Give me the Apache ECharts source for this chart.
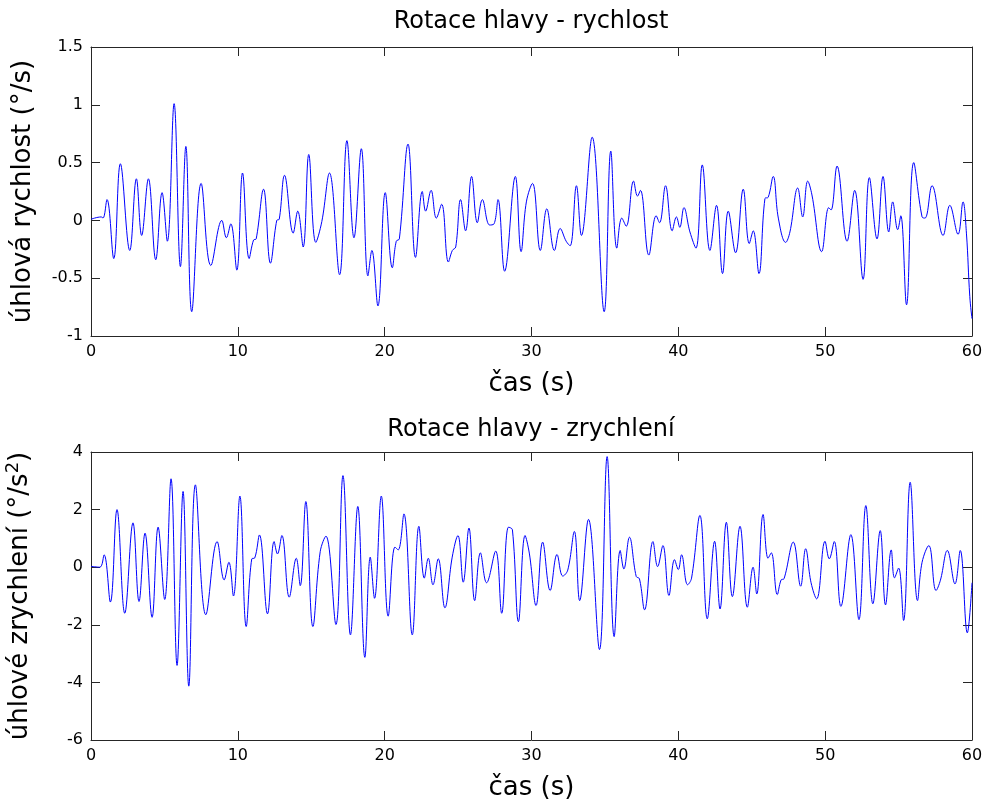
<!DOCTYPE html>
<html>
<head>
<meta charset="utf-8">
<script src="https://cdn.jsdelivr.net/npm/echarts@6/dist/echarts.min.js"></script>
<style>
html,body{margin:0;padding:0;background:#fff;}
#c{width:987px;height:805px;}
</style>
</head>
<body>
<div id="c"></div>
<script>
// Angular velocity (top panel): time [s] and value [deg/s]
const velTime = [0.0,0.7,0.82,1.09,1.55,2.0,2.64,3.09,3.45,3.91,4.41,4.84,5.2,5.66,6.09,6.46,6.86,7.5,8.16,8.91,9.22,9.52,9.93,10.32,10.77,11.07,11.25,11.75,12.22,12.65,12.82,13.18,13.77,14.08,14.45,14.83,15.31,15.72,16.24,16.93,17.43,17.91,18.41,18.86,19.13,19.54,20.04,20.52,20.79,21.0,21.59,22.1,22.56,22.79,23.16,23.52,23.88,24.34,24.61,24.84,25.17,25.51,25.92,26.31,26.65,27.15,27.45,27.72,28.17,28.9,29.29,29.65,30.07,30.6,31.04,31.56,31.95,32.36,32.63,33.06,33.4,34.13,34.95,35.4,35.81,36.15,36.45,36.95,37.22,37.42,37.99,38.49,38.72,39.13,39.58,39.87,40.1,40.38,40.79,41.2,41.63,42.15,42.6,43.01,43.4,43.9,44.42,44.83,45.1,45.49,45.9,46.12,46.46,46.81,47.31,47.6,48.13,48.47,48.81,49.1,49.76,50.24,50.4,50.81,51.49,52.01,52.58,53.01,53.53,53.94,54.33,54.6,54.94,55.15,55.54,56.03,56.6,56.8,57.28,58.03,58.49,59.05,59.39,59.62,59.85,60.0];
const velValue = [0.01,0.03,0.02,0.18,-0.33,0.49,-0.26,0.36,-0.13,0.36,-0.34,0.24,-0.18,1.01,-0.40,0.64,-0.79,0.32,-0.39,0.0,-0.15,-0.03,-0.43,0.41,-0.33,-0.17,-0.16,0.27,-0.37,0.0,0.01,0.39,-0.11,0.08,-0.23,0.57,-0.19,-0.01,0.41,-0.47,0.69,-0.15,0.62,-0.48,-0.26,-0.74,0.24,-0.41,-0.18,-0.16,0.66,-0.32,0.25,0.08,0.26,0.02,0.14,-0.36,-0.26,-0.23,0.18,-0.09,0.38,-0.02,0.18,-0.04,-0.03,0.18,-0.44,0.38,-0.27,0.16,0.32,-0.26,0.10,-0.26,-0.07,-0.18,-0.22,0.30,-0.13,0.72,-0.79,0.60,-0.24,0.02,-0.05,0.34,0.21,0.26,-0.30,0.04,-0.02,0.30,-0.09,0.03,-0.06,0.11,-0.10,-0.24,0.48,-0.26,0.13,-0.46,0.08,-0.28,0.27,-0.20,-0.09,-0.46,0.19,0.20,0.38,0.02,-0.19,-0.10,0.28,0.03,0.34,0.22,-0.27,0.11,0.09,0.47,-0.18,0.26,-0.51,0.37,-0.16,0.38,-0.10,0.16,-0.08,0.04,-0.73,0.50,0.03,0.02,0.30,-0.13,0.13,-0.12,0.16,-0.11,-0.66,-0.85];

// Angular acceleration (bottom panel): time [s] and value [deg/s^2]
const accTime = [0.0,0.6,0.89,1.32,1.77,2.3,2.86,3.27,3.68,4.16,4.57,5.02,5.45,5.86,6.27,6.66,7.11,7.82,8.59,9.07,9.39,9.7,10.14,10.57,10.95,11.15,11.47,12.02,12.47,12.7,13.0,13.5,13.98,14.25,14.63,15.11,15.61,16.0,16.68,17.16,17.67,18.17,18.65,19.02,19.31,19.77,20.24,20.7,20.92,21.31,21.88,22.33,22.7,22.97,23.29,23.65,24.1,24.6,24.99,25.35,25.74,26.13,26.52,26.94,27.56,27.97,28.43,28.7,29.11,29.56,29.86,30.31,30.76,31.27,31.74,32.13,32.47,32.92,33.28,33.88,34.63,35.15,35.63,36.04,36.29,36.67,37.13,37.35,37.7,38.27,38.59,38.95,39.36,39.74,40.0,40.22,40.63,40.9,41.47,41.97,42.47,42.84,43.27,43.68,44.2,44.7,45.09,45.34,45.77,46.11,46.33,46.74,47.0,47.2,47.83,48.33,48.67,49.04,49.42,49.99,50.28,50.62,51.07,51.75,52.3,52.77,53.25,53.75,54.11,54.5,54.72,55.0,55.34,55.79,56.29,56.6,57.06,57.55,57.85,58.32,58.84,59.2,59.68,60.0];
const accValue = [0.03,0.0,0.43,-1.21,2.0,-1.6,1.54,-1.19,1.18,-1.74,1.39,-1.12,3.07,-3.41,2.63,-4.13,2.86,-1.65,0.89,-0.44,0.17,-1.0,2.47,-2.06,0.29,0.32,1.12,-1.62,0.89,0.46,1.1,-1.04,0.31,-0.64,2.28,-2.06,0.54,1.08,-1.99,3.18,-2.35,2.11,-3.13,0.35,-1.08,2.47,-1.70,0.70,0.6,1.85,-2.35,1.42,-0.38,0.31,-0.61,0.29,-1.41,0.35,1.1,-0.52,1.36,-1.16,0.5,-0.54,0.56,-1.6,1.39,1.3,-1.89,1.1,0.46,-1.33,0.87,-0.81,0.44,-0.31,-0.1,1.24,-1.16,1.66,-2.86,3.84,-2.41,0.58,-0.06,1.04,-0.32,-0.4,-1.48,0.89,0.02,0.75,-0.98,0.26,-0.08,0.43,-0.61,-0.38,1.8,-1.79,0.9,-1.45,1.56,-1.02,1.42,-1.39,0.0,-0.93,1.83,0.31,0.5,-0.95,-0.44,-0.4,0.87,-0.66,0.64,-0.54,-1.1,0.9,0.29,0.89,-1.36,1.13,-1.82,2.14,-1.27,1.27,-1.31,0.6,-0.37,-0.03,-1.85,2.95,-1.16,0.17,0.75,-0.81,-0.45,0.58,-0.58,0.58,-2.28,-0.54];

const xTicks = [0,10,20,30,40,50,60];
const velTicks = [-1,-0.5,0,0.5,1,1.5];
const accTicks = [-6,-4,-2,0,2,4];

const titles = ['Rotace hlavy - rychlost', 'Rotace hlavy - zrychlení'];
const xName = 'čas (s)';
const velName = 'úhlová rychlost (°/s)';

const FONT = "'DejaVu Sans', 'Liberation Sans', sans-serif";
const AX = '#262626';
const TICK_FS = 16, NAME_FS = 26, TITLE_FS = 24;

function zip(a, b){ return a.map((t,i)=>[t,b[i]]); }

function xAx(grid, pos, labels){
  return {
    type:'value', gridIndex:grid, position:pos,
    min:xTicks[0], max:xTicks[xTicks.length-1], interval:xTicks[1]-xTicks[0],
    axisLine:{show:true, onZero:false, lineStyle:{color:AX, width:1}},
    axisTick:{show:true, inside:true, length:9, lineStyle:{color:AX}},
    axisLabel:{show:labels, color:'#000', fontSize:TICK_FS, fontFamily:FONT, margin:8},
    splitLine:{show:false},
    name: labels ? xName : '', nameLocation:'middle', nameGap:35,
    nameTextStyle:{color:'#000', fontSize:NAME_FS, fontFamily:FONT}
  };
}
function yAx(grid, pos, labels, ticks, name, rich){
  const o = {
    type:'value', gridIndex:grid, position:pos,
    min:ticks[0], max:ticks[ticks.length-1], interval:ticks[1]-ticks[0],
    axisLine:{show:true, onZero:false, lineStyle:{color:AX, width:1}},
    axisTick:{show:true, inside:true, length:9, lineStyle:{color:AX}},
    axisLabel:{show:labels, color:'#000', fontSize:TICK_FS, fontFamily:FONT, margin:8},
    splitLine:{show:false},
    name: labels ? name : '', nameLocation:'middle', nameGap:55, nameRotate:90,
    nameTextStyle:{color:'#000', fontSize:NAME_FS, fontFamily:FONT}
  };
  if (rich) o.nameTextStyle.rich = rich;
  return o;
}

const chart = echarts.init(document.getElementById('c'), null, {renderer:'canvas'});
chart.setOption({
  animation:false,
  backgroundColor:'#fff',
  title:[
    {text:titles[0], left:531, textAlign:'center', top:10, padding:0, textStyle:{color:'#000', fontSize:TITLE_FS, fontWeight:'normal', fontFamily:FONT}},
    {text:titles[1], left:531, textAlign:'center', top:418, padding:0, textStyle:{color:'#000', fontSize:TITLE_FS, fontWeight:'normal', fontFamily:FONT}}
  ],
  grid:[
    {left:91, top:47, width:881, height:289, show:false, outerBoundsMode:'none', containLabel:false},
    {left:91, top:452, width:881, height:288, show:false, outerBoundsMode:'none', containLabel:false}
  ],
  xAxis:[xAx(0,'bottom',true), xAx(0,'top',false), xAx(1,'bottom',true), xAx(1,'top',false)],
  yAxis:[
    yAx(0,'left',true,velTicks,velName),
    yAx(0,'right',false,velTicks,''),
    yAx(1,'left',true,accTicks,'{a|úhlové zrychlení (°/s}{s|2}{a|)}',
      {a:{fontSize:NAME_FS, fontFamily:FONT, color:'#000', lineHeight:32},
       s:{fontSize:18, fontFamily:FONT, color:'#000', verticalAlign:'top', lineHeight:32}}),
    yAx(1,'right',false,accTicks,'')
  ],
  series:[
    {type:'line', xAxisIndex:0, yAxisIndex:0, data:zip(velTime,velValue), showSymbol:false, smooth:0.4,
     lineStyle:{color:'#0000ff', width:1}, clip:true},
    {type:'line', xAxisIndex:2, yAxisIndex:2, data:zip(accTime,accValue), showSymbol:false, smooth:0.4,
     lineStyle:{color:'#0000ff', width:1}, clip:true}
  ]
});
</script>
</body>
</html>
